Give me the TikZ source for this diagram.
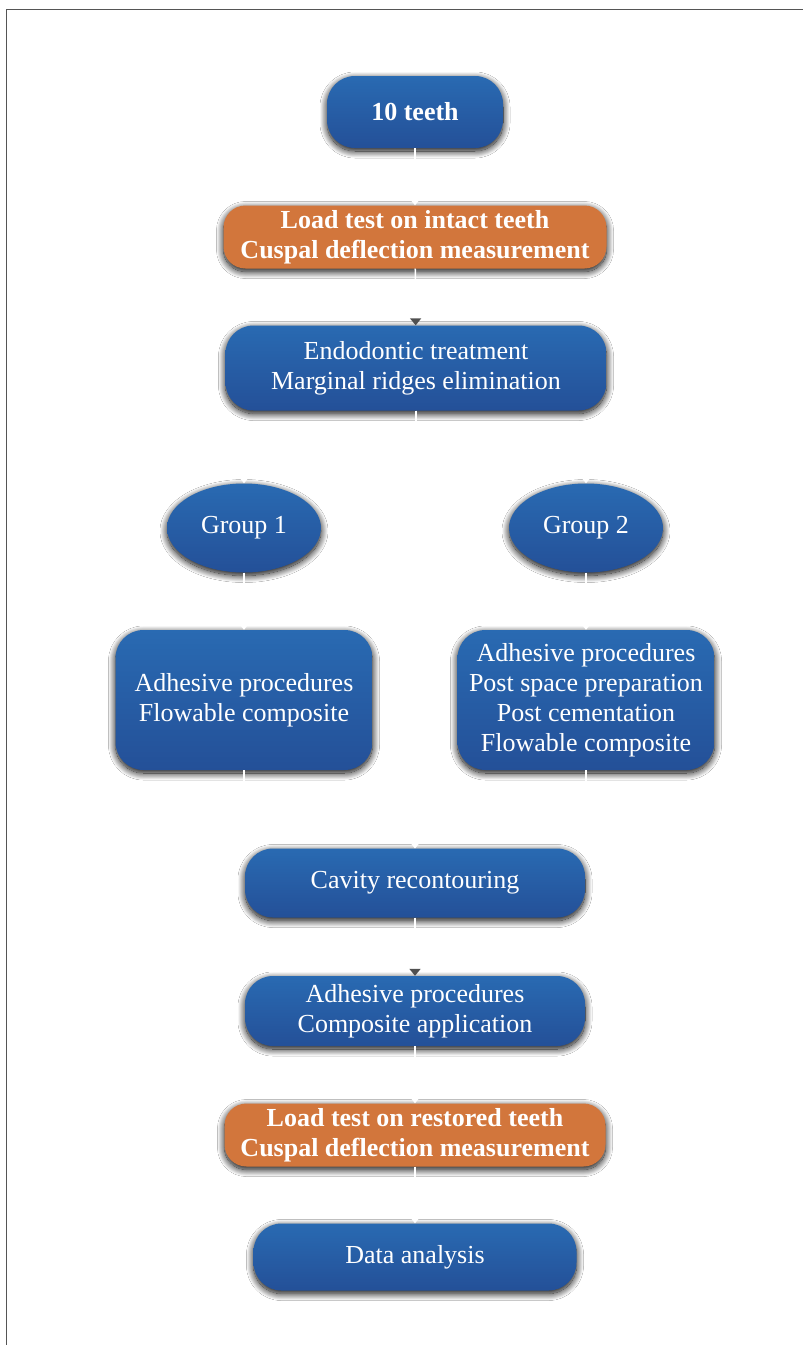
\documentclass[tikz,border=0pt]{standalone}
\usepackage{fontspec}
\setmainfont{Liberation Serif}
\usetikzlibrary{shapes.geometric,arrows.meta,shadows.blur}
\definecolor{boxtop}{RGB}{41,106,178}
\definecolor{boxbot}{RGB}{36,80,152}
\definecolor{loadfill}{RGB}{210,118,60}
\definecolor{framegray}{RGB}{85,85,85}
\definecolor{tipgray}{RGB}{80,80,80}
\tikzset{
  softshadow/.style={blur shadow={shadow xshift=0pt, shadow yshift=-3pt,
      shadow blur radius=7pt, shadow opacity=100, shadow blur steps=20}},
  textset/.style={text=white, align=center, inner sep=0pt,
      font=\fontsize{26}{30}\selectfont},
  bluebox/.style={rounded corners=28pt, top color=boxtop, bottom color=boxbot,
      draw=none, softshadow, textset},
  loadbox/.style={rounded corners=22pt, fill=loadfill, draw=none, softshadow,
      textset, font=\fontsize{26}{30}\selectfont\bfseries},
  groupoval/.style={ellipse, top color=boxtop, bottom color=boxbot,
      draw=none, softshadow, textset},
  flow/.style={white, line width=1.5pt, -{Triangle[width=11pt,length=7pt]}},
  flowdark/.style={white, line width=1.5pt,
      -{Triangle[width=11pt,length=7pt,color=tipgray]}},
}
\begin{document}
\begin{tikzpicture}[x=1pt,y=-1pt]
  \useasboundingbox[fill=white] (0,0) rectangle (803,1345);
  % page frame (top and left edges)
  \draw[framegray, line width=1.2pt] (6.5,1345) -- (6.5,9.5) -- (803,9.5);

  % steps of the protocol
  \node[bluebox, minimum width=176pt, minimum height=72pt,
        font=\fontsize{26}{30}\selectfont\bfseries] (teeth) at (415,112) {10 teeth};
  \node[loadbox, minimum width=383pt, minimum height=63pt] (loadA) at (415,237)
        {Load test on intact teeth\\Cuspal deflection measurement};
  \node[bluebox, minimum width=381pt, minimum height=85pt] (endo) at (416,368)
        {Endodontic treatment\\Marginal ridges elimination};
  \node[groupoval, minimum width=154pt, minimum height=89pt] (g1) at (244,528) {Group 1};
  \node[groupoval, minimum width=154pt, minimum height=89pt] (g2) at (586,528) {Group 2};
  \node[bluebox, minimum width=257pt, minimum height=140pt] (adh1) at (244,700)
        {Adhesive procedures\\Flowable composite};
  \node[bluebox, minimum width=257pt, minimum height=140pt] (adh2) at (586,700)
        {Adhesive procedures\\Post space preparation\\Post cementation\\Flowable composite};
  \node[bluebox, minimum width=340pt, minimum height=69pt] (cav) at (415,883)
        {Cavity recontouring};
  \node[bluebox, minimum width=340pt, minimum height=70pt] (comp) at (415,1011)
        {Adhesive procedures\\Composite application};
  \node[loadbox, minimum width=381pt, minimum height=63pt] (loadB) at (415,1135)
        {Load test on restored teeth\\Cuspal deflection measurement};
  \node[bluebox, minimum width=323pt, minimum height=67pt] (data) at (415,1257)
        {Data analysis};

  % connectors
  \draw[flow] (teeth) -- (loadA);
  \draw[flowdark] (loadA) -- (endo);
  \draw[flow] (endo.south) -- ++(0,35) -| (g1.north);
  \draw[flow] (endo.south) -- ++(0,35) -| (g2.north);
  \draw[flow] (g1) -- (adh1);
  \draw[flow] (g2) -- (adh2);
  \draw[flow] (adh1.south) -- ++(0,40) -| (cav.north);
  \draw[flow] (adh2.south) -- ++(0,40) -| (cav.north);
  \draw[flowdark] (cav) -- (comp);
  \draw[flow] (comp) -- (loadB);
  \draw[flow] (loadB) -- (data);
\end{tikzpicture}
\end{document}
